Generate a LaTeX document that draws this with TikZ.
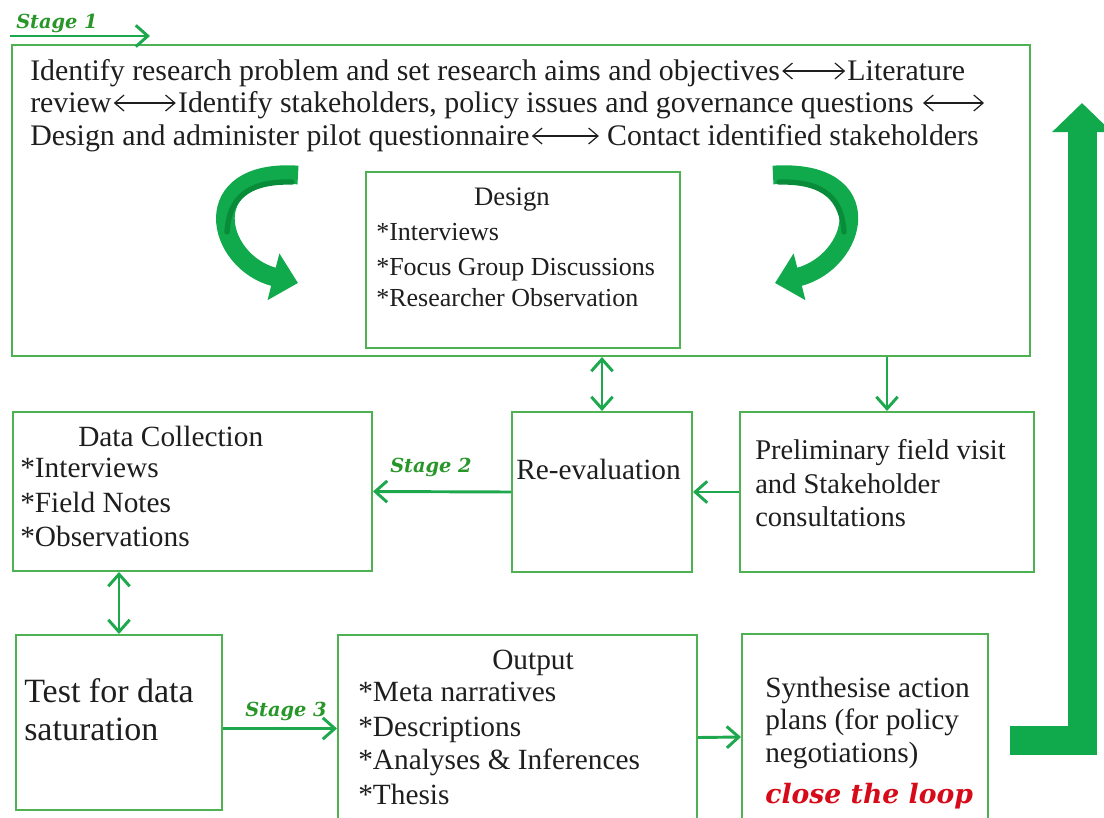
\documentclass[tikz,border=0pt]{standalone}
\usepackage{fontspec}
\setmainfont{Liberation Serif}
\newfontfamily\stagefont{DejaVu Serif}
\usetikzlibrary{arrows.meta,calc}
\definecolor{boxgreen}{RGB}{78,178,82}
\definecolor{linkgreen}{RGB}{30,168,78}
\definecolor{bandgreen}{RGB}{16,170,76}
\definecolor{banddark}{RGB}{8,140,58}
\definecolor{stagegreen}{RGB}{40,150,40}
\definecolor{loopred}{RGB}{215,10,25}
\definecolor{ink}{RGB}{30,30,30}
\begin{document}
\begin{tikzpicture}[x=0.75pt,y=-0.75pt,
  box/.style={draw=boxgreen,line width=1.5pt,inner sep=0pt},
  link/.style={draw=linkgreen,line width=2.2pt,-{Straight Barb[length=9pt,width=16pt]}},
  link2/.style={link,{Straight Barb[length=9pt,width=16pt]}-{Straight Barb[length=9pt,width=16pt]}},
  txt/.style={anchor=base west,inner sep=0pt,text=ink},
  toptxt/.style={txt,font=\fontsize{22.4pt}{26pt}\selectfont},
  tarrow/.style={draw=ink,line width=0.9pt,{Straight Barb[length=7pt,width=12pt]}-{Straight Barb[length=7pt,width=12pt]}},
  stage/.style={anchor=base west,inner sep=0pt,text=stagegreen,font=\stagefont\bfseries\itshape\fontsize{14.5pt}{16pt}\selectfont},
  band/.style={draw=bandgreen,line width=14pt,-{Triangle[length=19pt,width=35pt]}},
  bandshade/.style={draw=banddark,line width=4pt,line cap=round},
  loopband/.style={draw=bandgreen,line width=21.75pt,line join=miter,-{Triangle[length=21.75pt,width=43.5pt]}},
]
\useasboundingbox (0,0) rectangle (1104,818);

% boxes
\node[box,minimum width=763.5pt,minimum height=233.25pt] (top) at (521,200.5) {};
\node[box,minimum width=235.5pt,minimum height=132pt] (design) at (523,260) {};
\node[box,minimum width=269.25pt,minimum height=119.25pt] (data) at (192.5,491.5) {};
\node[box,minimum width=135pt,minimum height=120pt] (reeval) at (602,492) {};
\node[box,minimum width=220.5pt,minimum height=120pt] (prelim) at (887,492) {};
\node[box,minimum width=154.5pt,minimum height=131.25pt] (test) at (119,722.5) {};
\node[box,minimum width=269.25pt,minimum height=146.25pt] (output) at (517.5,732.5) {};
\node[box,minimum width=184.5pt,minimum height=147pt] (synth) at (865,732) {};

% stage 1 text block, with two-headed arrows between the phrases
\node[toptxt] (t1a) at (30,80) {Identify research problem and set research aims and objectives};
\node[toptxt] (t1b) at ($(t1a.base east)+(67,0)$) {Literature};
\draw[tarrow] ($(t1a.base east)+(2,-9)$) -- ($(t1b.base west)+(-2,-9)$);
\node[toptxt] (t2a) at (30,112) {review};
\node[toptxt] (t2b) at ($(t2a.base east)+(66,0)$) {Identify stakeholders, policy issues and governance questions};
\draw[tarrow] ($(t2a.base east)+(2,-9)$) -- ($(t2b.base west)+(-2,-9)$);
\coordinate (t2e1) at ($(t2b.base east)+(9,-9)$);
\coordinate (t2e2) at ($(t2b.base east)+(70,-9)$);
\draw[tarrow] (t2e1) -- (t2e2);
\node[toptxt] (t3a) at (30,145) {Design and administer pilot questionnaire};
\node[toptxt] (t3b) at ($(t3a.base east)+(77,0)$) {Contact identified stakeholders};
\draw[tarrow] ($(t3a.base east)+(2,-9)$) -- ($(t3b.base west)+(-8,-9)$);

% design box text
\node[txt,font=\fontsize{20pt}{24pt}\selectfont,anchor=base] (dh) at (512,205) {Design};
\begin{scope}[every node/.style={txt,font=\fontsize{19.5pt}{24pt}\selectfont}]
\node (d1) at (376,240) {*Interviews};
\node (d2) at (376,275) {*Focus Group Discussions};
\node (d3) at (376,306) {*Researcher Observation};
\end{scope}

% text of the lower boxes
\begin{scope}[every node/.style={txt,font=\fontsize{22pt}{26pt}\selectfont}]
\node (dch) at (78,446) {Data Collection};
\node (dc1) at (20,477) {*Interviews};
\node (dc2) at (20,512) {*Field Notes};
\node (dc3) at (20,546) {*Observations};
\node (re) at (516,479) {Re-evaluation};
\node (oh) at (492,669) {Output};
\node (o1) at (358,701) {*Meta narratives};
\node (o2) at (358,736) {*Descriptions};
\node (o3) at (358,769) {*Analyses \& Inferences};
\node (o4) at (358,804) {*Thesis};
\node (s1) at (765,697) {Synthesise action};
\node (s2) at (765,729) {plans (for policy};
\node (s3) at (765,762) {negotiations)};
\end{scope}
\begin{scope}[every node/.style={txt,font=\fontsize{21.4pt}{26pt}\selectfont}]
\node (p1) at (755,459) {Preliminary field visit};
\node (p2) at (755,493) {and Stakeholder};
\node (p3) at (755,526) {consultations};
\end{scope}
\begin{scope}[every node/.style={txt,font=\fontsize{25.5pt}{30pt}\selectfont}]
\node (ts1) at (24,702) {Test for data};
\node (ts2) at (24,740) {saturation};
\end{scope}
\node[txt,text=loopred,font=\stagefont\bfseries\itshape\fontsize{20pt}{24pt}\selectfont] (loop) at (765,803) {close the loop};

% stage labels
\node[stage] (st1) at (16,28) {Stage 1};
\node[stage] (st2) at (390,472) {Stage 2};
\node[stage] (st3) at (245,716) {Stage 3};

% connectors
\coordinate (s1a) at (10,36);
\coordinate (s1b) at (150,36);
\draw[link] (s1a) -- (s1b);
\draw[link2] (top.south -| reeval.north) -- (reeval.north);
\draw[link] (top.south -| prelim.north) -- (prelim.north);
\draw[link] (prelim.west) -- (reeval.east);
\draw[link] (reeval.west) -- (data.east);
\draw[link2] (test.north |- data.south) -- (test.north);
\draw[link] ($(test.east)+(0,6)$) -- ($(test.east -| output.west)+(0,6)$);
\draw[link] ($(output.east)+(0,5)$) -- ($(synth.west)+(0,5)$);

% curved arrows around the design box
\draw[band] (298,175) .. controls (195,168) and (215,262) .. (298,283);
\draw[bandshade] (292,182) .. controls (245,181) and (229,200) .. (227,232);
\draw[band] (773,175) .. controls (882,168) and (858,262) .. (775,283);
\draw[bandshade] (779,182) .. controls (826,181) and (842,200) .. (844,232);

% closing loop arrow
\coordinate (loopstart) at (1010,740);
\coordinate (loopcorner) at (1082,740);
\coordinate (looptip) at (1082,103);
\draw[loopband] (loopstart) -- (loopcorner) -- (looptip);
\end{tikzpicture}
\end{document}
